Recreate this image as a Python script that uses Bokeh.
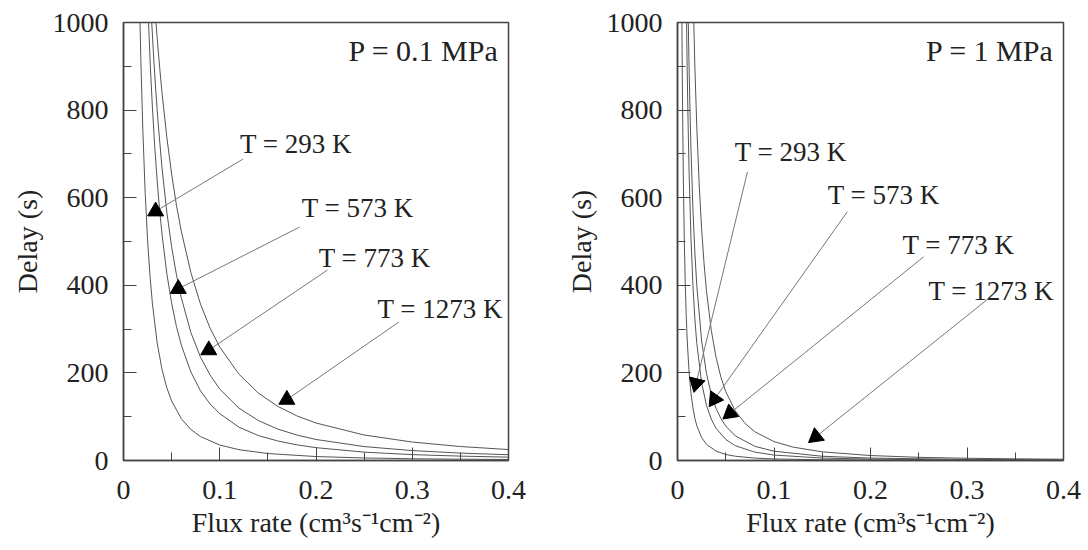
from bokeh.plotting import figure
from bokeh.models import Range1d, FixedTicker, CustomJSTickFormatter, Label
from bokeh.layouts import row
from bokeh.embed import file_html
from bokeh.resources import INLINE

# ---------------- data ----------------
temps = ["293", "573", "773", "1273"]
x_ticks = [0, 0.1, 0.2, 0.3, 0.4]
x_minor = [0.05, 0.15, 0.25, 0.35]
y_ticks = [0, 200, 400, 600, 800, 1000]
y_minor = [100, 300, 500, 700, 900]

# P = 0.1 MPa
flux_01_293 = [0.017, 0.018, 0.020, 0.0225, 0.025, 0.0275, 0.030, 0.035, 0.040, 0.045, 0.050, 0.060, 0.070, 0.080, 0.100, 0.120, 0.150, 0.200, 0.250, 0.300, 0.350, 0.400]
delay_01_293 = [1017, 918, 759, 612, 504, 422, 359, 268, 208, 166, 136, 95.6, 70.9, 54.6, 35.3, 24.7, 15.9, 9.0, 5.8, 4.0, 3.0, 2.3]
flux_01_573 = [0.025, 0.028, 0.030, 0.0325, 0.035, 0.0375, 0.040, 0.045, 0.050, 0.055, 0.060, 0.070, 0.080, 0.090, 0.100, 0.120, 0.140, 0.160, 0.180, 0.200, 0.250, 0.300, 0.350, 0.400]
delay_01_573 = [1054, 894, 807, 715, 638, 572, 517, 427, 359, 306, 264, 202, 159, 129, 107, 76, 57, 44.7, 35.8, 29.3, 19.1, 13.4, 10.0, 7.7]
flux_01_773 = [0.029, 0.031, 0.0335, 0.036, 0.040, 0.045, 0.050, 0.055, 0.060, 0.070, 0.080, 0.090, 0.100, 0.120, 0.140, 0.160, 0.180, 0.200, 0.250, 0.300, 0.350, 0.400]
delay_01_773 = [1013, 933, 846, 770, 668, 567, 488, 424, 372, 292, 236, 195, 163, 119.5, 91.3, 72.0, 58.2, 48.0, 31.8, 22.6, 16.9, 13.1]
flux_01_1273 = [0.033, 0.035, 0.0375, 0.040, 0.045, 0.050, 0.055, 0.060, 0.070, 0.080, 0.090, 0.100, 0.120, 0.140, 0.160, 0.180, 0.200, 0.250, 0.300, 0.350, 0.400]
delay_01_1273 = [1022, 964, 899, 840, 738, 654, 583, 524, 429, 357, 302, 259, 197, 154, 124, 102, 85.6, 58.2, 42.1, 31.9, 25.0]

# P = 1 MPa
flux_1_293 = [0.0045, 0.005, 0.006, 0.007, 0.008, 0.009, 0.010, 0.012, 0.014, 0.016, 0.018, 0.020, 0.025, 0.030, 0.040, 0.050, 0.060, 0.080, 0.100, 0.150, 0.200, 0.300, 0.400]
delay_1_293 = [1019, 869, 652, 508, 407, 333, 277.5, 201, 153, 120, 96.5, 79.4, 52.3, 37.0, 21.3, 13.8, 9.7, 5.5, 3.6, 1.6, 0.9, 0.4, 0.23]
flux_1_573 = [0.009, 0.010, 0.011, 0.012, 0.014, 0.016, 0.018, 0.020, 0.025, 0.030, 0.035, 0.040, 0.050, 0.060, 0.080, 0.100, 0.150, 0.200, 0.300, 0.400]
delay_1_573 = [1069, 899, 766, 660, 505, 399, 323, 267, 177.5, 126, 94.5, 73.4, 47.9, 33.7, 19.2, 12.4, 5.6, 3.2, 1.4, 0.8]
flux_1_773 = [0.011, 0.012, 0.013, 0.014, 0.016, 0.018, 0.020, 0.025, 0.030, 0.035, 0.040, 0.045, 0.050, 0.060, 0.080, 0.100, 0.150, 0.200, 0.300, 0.400]
delay_1_773 = [1021, 897, 794, 709, 574, 474, 399, 273, 199, 151, 119, 95.6, 78.7, 56.0, 32.5, 21.2, 9.7, 5.5, 2.5, 1.4]
flux_1_1273 = [0.016, 0.018, 0.020, 0.0225, 0.025, 0.0275, 0.030, 0.035, 0.040, 0.045, 0.050, 0.060, 0.070, 0.080, 0.100, 0.120, 0.150, 0.200, 0.250, 0.300, 0.350, 0.400]
delay_1_1273 = [1078, 899, 761, 629, 528, 450, 388, 297, 235, 190, 157, 113, 84.6, 65.8, 43.1, 30.4, 19.8, 11.3, 7.3, 5.1, 3.8, 2.9]

# marker (arrow-head) positions
marker_flux_01 = [0.0334, 0.0569, 0.0886, 0.1697]
marker_delay_01 = [569, 392, 252, 139]
marker_flux_1 = [0.0193, 0.0383, 0.0545, 0.1433]
marker_delay_1 = [176, 140, 108, 54]

# ---------------- annotation layout ----------------
arrow_start_01 = [(0.124, 688), (0.183, 533), (0.212, 435), (0.286, 316)]
label_pos_01 = [(0.1211, 723), (0.1853, 576), (0.2029, 462), (0.264, 346)]
arrow_start_1 = [(0.0725, 659), (0.176, 568), (0.255, 465), (0.323, 371)]
label_pos_1 = [(0.0593, 704), (0.1556, 606), (0.2332, 492), (0.260, 387)]
marker_angle_01 = [0, 0, 0, 0]
marker_angle_1 = [2.902, 2.526, 2.250, 2.244]

FONT = "Liberation Serif"
TXT = "#222222"


def make_panel(curves, mx, my, mangle, astart, lpos, ptext, left, right):
    p = figure(width=544, height=548, x_range=Range1d(0, 0.4), y_range=Range1d(0, 1000),
               output_backend="svg", toolbar_location=None,
               min_border_left=left, min_border_right=right,
               min_border_top=22, min_border_bottom=88)
    p.grid.visible = False
    p.outline_line_color = "#444444"
    p.outline_line_width = 1.5
    p.background_fill_color = "white"
    p.border_fill_color = "white"

    for xs, ys in curves:
        p.line(xs, ys, line_color="#555555", line_width=1)

    p.segment(x0=[a[0] for a in astart], y0=[a[1] for a in astart], x1=mx, y1=my,
              line_color="#777777", line_width=1)
    p.scatter(mx, my, marker="triangle", size=16, angle=mangle,
              fill_color="black", line_color="black")

    for (lx, ly), t in zip(lpos, temps):
        p.add_layout(Label(x=lx, y=ly, text=f"T = {t} K", text_font=FONT,
                           text_font_size="27px", text_baseline="middle",
                           text_align="left", text_color=TXT))
    p.add_layout(Label(x=0.39, y=935, text=ptext, text_font=FONT, text_font_size="30px",
                       text_baseline="middle", text_align="right", text_color=TXT))

    for ax in (p.xaxis[0], p.yaxis[0]):
        ax.axis_line_color = "#444444"
        ax.axis_line_width = 1.5
        ax.major_tick_line_color = "#444444"
        ax.minor_tick_line_color = "#444444"
        ax.major_tick_in = 13
        ax.major_tick_out = 0
        ax.minor_tick_in = 8
        ax.minor_tick_out = 0
        ax.major_label_text_font = FONT
        ax.major_label_text_font_size = "28px"
        ax.major_label_text_color = TXT
        ax.axis_label_text_font = FONT
        ax.axis_label_text_font_size = "28px"
        ax.axis_label_text_font_style = "normal"
        ax.axis_label_text_color = TXT

    p.xaxis.ticker = FixedTicker(ticks=x_ticks, minor_ticks=x_minor)
    p.xaxis.formatter = CustomJSTickFormatter(code="return tick == 0 ? '0' : tick.toFixed(1);")
    p.xaxis.major_label_standoff = 20
    p.xaxis.axis_label_standoff = 5
    p.xaxis.axis_label = "Flux rate (cm³s⁻¹cm⁻²)"

    p.yaxis.ticker = FixedTicker(ticks=y_ticks, minor_ticks=y_minor)
    p.yaxis.major_label_standoff = 15
    p.yaxis.axis_label_standoff = 7
    p.yaxis.axis_label = "Delay (s)"
    p.yaxis.major_label_orientation = "horizontal"
    return p


p1 = make_panel([(flux_01_293, delay_01_293), (flux_01_573, delay_01_573),
                 (flux_01_773, delay_01_773), (flux_01_1273, delay_01_1273)],
                marker_flux_01, marker_delay_01, marker_angle_01,
                arrow_start_01, label_pos_01, "P = 0.1 MPa", 123, 36)
p2 = make_panel([(flux_1_293, delay_1_293), (flux_1_573, delay_1_573),
                 (flux_1_773, delay_1_773), (flux_1_1273, delay_1_1273)],
                marker_flux_1, marker_delay_1, marker_angle_1,
                arrow_start_1, label_pos_1, "P = 1 MPa", 133, 25)

layout = row(p1, p2)
open("out.html", "w").write(file_html(layout, INLINE))
